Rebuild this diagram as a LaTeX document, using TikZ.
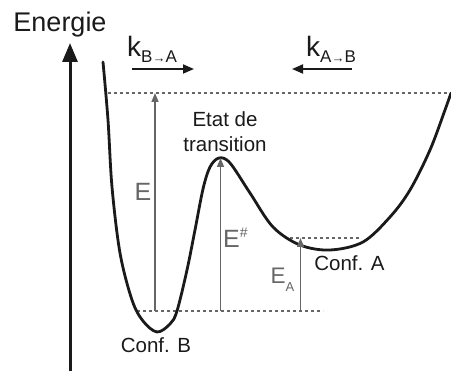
\documentclass[tikz,border=0pt]{standalone}
\usepackage{fontspec}
\setmainfont{Liberation Sans}
\usetikzlibrary{arrows.meta}
\usepackage{xcolor}
\definecolor{inkdark}{HTML}{1A1A1A}
\definecolor{levelgray}{HTML}{666666}

\tikzset{
  level/.style={levelgray, line width=1.3pt, dash pattern=on 3pt off 3pt},
  gap/.style={levelgray, line width=1.5pt, -{Triangle[length=9pt,width=7pt]}},
  rate/.style={inkdark, line width=1.8pt, -{Triangle[length=11pt,width=9pt]}},
  lbl/.style={inkdark, inner sep=0pt, font=\fontsize{20.5}{25}\selectfont},
  glbl/.style={levelgray, inner sep=0pt, anchor=base west}
}

\begin{document}
\begin{tikzpicture}[x=1pt, y=-1pt]
\useasboundingbox (0,0) rectangle (451,371);

% energy axis
\coordinate (axis0) at (70,371);
\coordinate (axis1) at (70,43);
\draw[inkdark, line width=3pt, -{Triangle[length=19pt,width=15pt]}] (axis0) -- (axis1);
\node[lbl, anchor=base, font=\fontsize{27}{30}\selectfont] (energie) at (60,32) {Energie};

% rates
\node[lbl, anchor=base west] (kba) at (127,57) {\fontsize{28}{30}\selectfont k\raisebox{-6pt}{\fontsize{17}{18}\selectfont B{\fontsize{13}{14}\selectfont →}A}};
\node[lbl, anchor=base west] (kab) at (306,57) {\fontsize{28}{30}\selectfont k\raisebox{-6pt}{\fontsize{17}{18}\selectfont A{\fontsize{13}{14}\selectfont →}B}};
\coordinate (kba0) at (132,69);
\coordinate (kba1) at (194,69);
\coordinate (kab0) at (352,69);
\coordinate (kab1) at (292,69);
\draw[rate] (kba0) -- (kba1);
\draw[rate] (kab0) -- (kab1);

% energy levels
\coordinate (topL) at (108,93);
\coordinate (topR) at (451,93);
\coordinate (botL) at (137,311);
\coordinate (botR) at (323,311);
\coordinate (midL) at (290,238);
\coordinate (midR) at (360,238);
\draw[level] (topL) -- (topR);
\draw[level] (botL) -- (botR);
\draw[level] (midL) -- (midR);

% potential curve
\draw[inkdark, line width=2.8pt, line cap=round] plot[smooth, tension=0.55] coordinates {
  (103,62) (108,120) (112,187) (120,253) (132,300) (143,321) (157,332)
  (170,324) (177,311) (187,270) (195,230) (203,189) (210,167) (219,158)
  (230,163) (250,193) (273,227) (300,245) (330,250) (363,242) (390,217)
  (410,190) (430,150) (445,110) (451,93)};

% barriers
\coordinate (e0) at (155,311);
\coordinate (e1) at (155,93);
\coordinate (ets0) at (220.5,311);
\coordinate (ets1) at (220.5,158);
\coordinate (ea0) at (300.5,311);
\coordinate (ea1) at (300.5,238);
\draw[gap] (e0) -- (e1);
\draw[gap] (ets0) -- (ets1);
\draw[gap] (ea0) -- (ea1);

\node[glbl, anchor=base, font=\fontsize{25}{26}\selectfont] (elbl) at (143,201) {E};
\node[glbl, font=\fontsize{25}{26}\selectfont] (etslbl) at (223,248) {E\raisebox{10pt}{\fontsize{14}{14}\selectfont\#}};
\node[glbl, font=\fontsize{22.5}{24}\selectfont] (ealbl) at (270.5,284) {E\raisebox{-8pt}{\fontsize{13}{13}\selectfont A}};

% states
\node[lbl, align=center] (ts) at (225,132) {Etat de\\transition};
\node[lbl, anchor=base] (confb) at (156,353) {Conf. B};
\node[lbl, anchor=base] (confa) at (349.5,271) {Conf. A};

\end{tikzpicture}
\end{document}
